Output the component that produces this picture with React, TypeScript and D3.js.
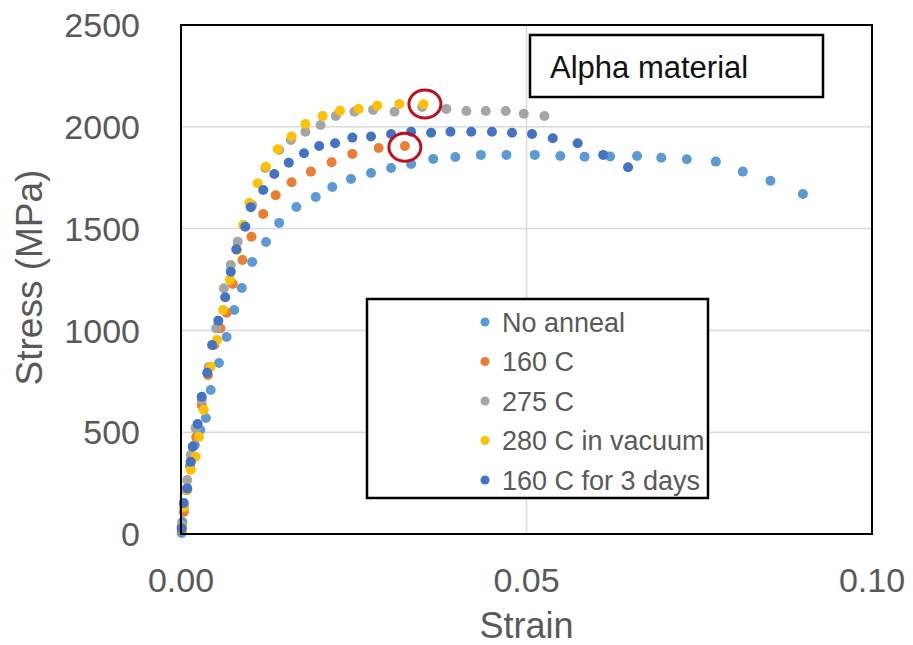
import React from 'react';
import * as d3 from 'd3';

// strain / stress, one pair of arrays per series
const noAnnealStrain = [0.0001, 0.0002, 0.0004, 0.0007, 0.0013, 0.002, 0.0028, 0.0036, 0.0043, 0.0055, 0.0066, 0.0077, 0.0088, 0.0103, 0.0123, 0.0142, 0.0167, 0.0195, 0.0219, 0.0246, 0.0275, 0.0304, 0.0333, 0.0365, 0.0397, 0.0434, 0.0471, 0.0512, 0.0549, 0.0584, 0.0621, 0.066, 0.0695, 0.0732, 0.0774, 0.0813, 0.0853, 0.09];
const noAnnealStress = [5, 59, 128, 216, 334, 437, 511, 570, 707, 840, 968, 1100, 1208, 1336, 1434, 1528, 1606, 1655, 1704, 1744, 1773, 1798, 1817, 1842, 1852, 1862, 1862, 1862, 1857, 1853, 1854, 1857, 1848, 1841, 1829, 1780, 1735, 1670];

const c160Strain = [0.0001, 0.0004, 0.0009, 0.0014, 0.0022, 0.003, 0.0039, 0.0048, 0.0057, 0.0066, 0.0075, 0.0089, 0.0102, 0.0119, 0.0137, 0.016, 0.0188, 0.0218, 0.0248, 0.0286, 0.0324];
const c160Stress = [20, 108, 216, 354, 476, 634, 781, 928, 1010, 1087, 1228, 1346, 1460, 1572, 1664, 1728, 1780, 1826, 1867, 1896, 1906];

const c275Strain = [0.0001, 0.0004, 0.0009, 0.0014, 0.0021, 0.003, 0.004, 0.0051, 0.0062, 0.0072, 0.0082, 0.0103, 0.0122, 0.0142, 0.0159, 0.018, 0.0202, 0.0224, 0.0251, 0.0278, 0.0309, 0.0349, 0.0384, 0.0413, 0.0441, 0.047, 0.0496, 0.0526];
const c275Stress = [44, 142, 265, 388, 520, 658, 820, 1010, 1207, 1321, 1436, 1616, 1798, 1886, 1935, 1976, 2009, 2053, 2074, 2083, 2074, 2097, 2088, 2078, 2078, 2078, 2064, 2053];

const c280Strain = [0.0001, 0.0004, 0.0009, 0.0014, 0.0021, 0.0026, 0.0033, 0.0043, 0.0052, 0.0061, 0.0071, 0.0081, 0.009, 0.0099, 0.0111, 0.0123, 0.014, 0.016, 0.018, 0.0205, 0.023, 0.0257, 0.0284, 0.0316, 0.0351];
const c280Stress = [34, 133, 216, 314, 380, 478, 609, 822, 953, 1100, 1248, 1395, 1518, 1626, 1723, 1804, 1890, 1952, 2014, 2053, 2079, 2088, 2104, 2112, 2111];

const c160DaysStrain = [0.0001, 0.0004, 0.0009, 0.0014, 0.0017, 0.0024, 0.003, 0.0038, 0.0045, 0.0054, 0.0064, 0.0072, 0.008, 0.0093, 0.0101, 0.0119, 0.0135, 0.0156, 0.0178, 0.02, 0.0223, 0.0248, 0.0275, 0.0304, 0.0333, 0.0362, 0.039, 0.042, 0.045, 0.0479, 0.0508, 0.0538, 0.0574, 0.0611, 0.0647];
const c160DaysStress = [29, 152, 224, 355, 429, 540, 674, 792, 928, 1048, 1163, 1288, 1398, 1509, 1605, 1690, 1768, 1824, 1870, 1906, 1919, 1947, 1952, 1965, 1976, 1971, 1976, 1976, 1976, 1971, 1965, 1944, 1919, 1862, 1801];

const seriesNames = ['No anneal', '160 C', '275 C', '280 C in vacuum', '160 C for 3 days'];
const seriesColors = ['#5B9BD5', '#ED7D31', '#A5A5A5', '#FFC000', '#4472C4'];

// points ringed in red
const ringStrain = [0.0353, 0.0324];
const ringStress = [2112, 1900];

const xTicks = [0, 0.05, 0.1];
const yTicks = [0, 500, 1000, 1500, 2000, 2500];

const W = 913, H = 645;
const plot = { left: 181, right: 872, top: 25, bottom: 534 };
const font = '"Liberation Sans", Arial, sans-serif';

export default function App() {
  const x = d3.scaleLinear().domain([0, 0.1]).range([plot.left, plot.right]);
  const y = d3.scaleLinear().domain([0, 2500]).range([plot.bottom, plot.top]);

  const series = [
    [noAnnealStrain, noAnnealStress],
    [c160Strain, c160Stress],
    [c275Strain, c275Stress],
    [c280Strain, c280Stress],
    [c160DaysStrain, c160DaysStress],
  ].map(([xs, ys], i) => ({
    name: seriesNames[i],
    color: seriesColors[i],
    pts: xs.map((v, j) => [v, ys[j]]),
  }));

  return (
    <svg width={W} height={H} style={{ position: 'absolute', left: 0, top: 0, background: '#fff' }}>
      {/* gridlines */}
      <g stroke="#D9D9D9" strokeWidth={1.5}>
        {yTicks.slice(1, -1).map(t => (
          <line key={t} x1={plot.left} x2={plot.right} y1={y(t)} y2={y(t)} />
        ))}
        <line x1={x(0.05)} x2={x(0.05)} y1={plot.top} y2={plot.bottom} />
      </g>

      {/* tick labels */}
      <g fill="#595959" fontFamily={font} fontSize={34}>
        {yTicks.map(t => (
          <text key={t} x={140} y={y(t)} textAnchor="end" dy="0.36em">{t}</text>
        ))}
        {xTicks.map(t => (
          <text key={t} x={x(t)} y={580} textAnchor="middle" dy="0.36em">{d3.format('.2f')(t)}</text>
        ))}
      </g>
      <text x={x(0.05)} y={625} textAnchor="middle" dy="0.36em" fill="#595959" fontFamily={font} fontSize={36}>Strain</text>
      <text transform={`translate(29,${(plot.top + plot.bottom) / 2 - 2}) rotate(-90)`} textAnchor="middle" dy="0.36em"
        fill="#595959" fontFamily={font} fontSize={37}>Stress (MPa)</text>

      {/* points */}
      {series.map(s => (
        <g key={s.name} fill={s.color}>
          {s.pts.map((p, j) => (
            <circle key={j} cx={x(p[0])} cy={y(p[1])} r={5} />
          ))}
        </g>
      ))}

      {/* red rings */}
      {ringStrain.map((v, i) => (
        <ellipse key={i} cx={x(v)} cy={y(ringStress[i])} rx={16} ry={14} fill="none" stroke="#C0101C" strokeWidth={3} />
      ))}

      {/* plot frame */}
      <rect x={plot.left} y={plot.top} width={plot.right - plot.left} height={plot.bottom - plot.top}
        fill="none" stroke="#000" strokeWidth={2} />

      {/* title box */}
      <rect x={530} y={35} width={293} height={62} fill="#fff" stroke="#000" strokeWidth={2.5} />
      <text x={550} y={67} dy="0.36em" fontFamily={font} fontSize={31} fill="#111">Alpha material</text>

      {/* legend */}
      <rect x={367} y={299} width={341} height={199} fill="#fff" stroke="#000" strokeWidth={2.5} />
      {series.map((s, i) => (
        <g key={s.name} transform={`translate(485,${322 + i * 39.5})`}>
          <circle r={4.5} fill={s.color} />
          <text x={17} dy="0.36em" fill="#595959" fontFamily={font} fontSize={27}>{s.name}</text>
        </g>
      ))}
    </svg>
  );
}
